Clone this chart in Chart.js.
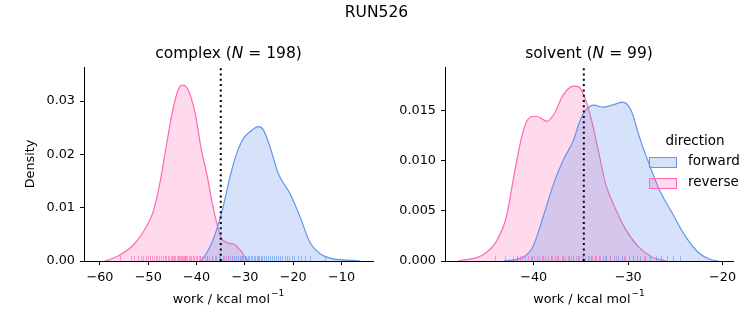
<!DOCTYPE html>
<html>
<head>
<meta charset="utf-8">
<script src="https://cdn.jsdelivr.net/npm/chart.js@4.4.1/dist/chart.umd.min.js"></script>
<style>
  body { margin: 0; background: #fff; }
  #wrap { position: relative; width: 753px; height: 325px; font-family: "DejaVu Sans", sans-serif; }
  #sup { position: absolute; left: 0; top: 3px; width: 753px; text-align: center; font-size: 15.5px; color: #000; }
  canvas { position: absolute; top: 0; }
</style>
</head>
<body>
<div id="wrap">
  <canvas id="complexChart" width="376" height="325" style="left:0"></canvas>
  <canvas id="solventChart" width="377" height="325" style="left:376px"></canvas>
  <div id="sup">RUN526</div>
</div>
<script>
// complex leg: KDE curves
const complexRevX = [-59.0, -56.6, -53.1, -50.0, -49.0, -47.6, -46.2, -44.8, -43.5, -42.8, -41.7, -40.3, -39.0, -37.9, -36.6, -35.6, -34.8, -33.6, -32.2, -31.0, -30.0, -29.3];
const complexRevY = [0, 0.0008, 0.003, 0.0071, 0.0092, 0.0146, 0.022, 0.0289, 0.0327, 0.0330, 0.0320, 0.0277, 0.0208, 0.0164, 0.0102, 0.0063, 0.0042, 0.0034, 0.0031, 0.0021, 0.0008, 0];
const complexFwdX = [-39.0, -37.2, -35.9, -34.5, -33.1, -31.7, -30.3, -29.0, -27.2, -26.2, -24.8, -23.1, -20.7, -18.6, -16.6, -14.5, -11.7, -7.6, -6.2];
const complexFwdY = [0, 0.0027, 0.0058, 0.0102, 0.0158, 0.0202, 0.0230, 0.0242, 0.0252, 0.0246, 0.0214, 0.0164, 0.0127, 0.0083, 0.0036, 0.0014, 0.0004, 0.0001, 0];

// solvent leg
const solventRevX = [-48.0, -45.4, -44.0, -42.9, -42.0, -41.1, -40.4, -39.7, -38.6, -37.8, -36.9, -35.8, -35.2, -34.5, -33.8, -33.1, -32.4, -31.3, -30.3, -28.9, -27.5, -26.0];
const solventRevY = [0, 0.0006, 0.0019, 0.0044, 0.0090, 0.0130, 0.0143, 0.0144, 0.0139, 0.0147, 0.0165, 0.0174, 0.0173, 0.0160, 0.0137, 0.0107, 0.0077, 0.0051, 0.0032, 0.0014, 0.0004, 0];
const solventFwdX = [-43.2, -41.1, -40.1, -39.0, -37.9, -36.9, -35.8, -35.2, -34.5, -33.6, -32.7, -31.7, -30.6, -29.7, -28.8, -27.8, -26.7, -25.3, -23.9, -22.5, -21.1, -20.4];
const solventFwdY = [0, 0.0004, 0.0014, 0.0044, 0.0077, 0.0100, 0.0120, 0.0137, 0.0150, 0.0155, 0.0153, 0.0155, 0.0158, 0.0150, 0.0123, 0.0097, 0.0071, 0.0047, 0.0024, 0.0008, 0.0001, 0];

// rug samples (approximate)
const complexRevRug = [-55.8, -53.6, -52.9, -52.2, -51.6, -51.0, -50.5, -50.1, -49.6, -49.2, -48.8, -48.4, -48.1, -47.7, -47.3, -47.0, -46.6, -46.3, -46.0, -45.7, -45.4, -45.1, -44.9, -44.6, -44.4, -44.1, -43.9, -43.7, -43.5, -43.3, -43.1, -42.9, -42.7, -42.5, -42.3, -42.1, -41.9, -41.6, -41.4, -41.1, -40.8, -40.5, -40.2, -39.9, -39.6, -39.2, -38.8, -38.3, -37.9, -37.4, -36.8, -36.1, -35.3, -34.4, -33.5, -32.6, -30.9];
const complexFwdRug = [-39.2, -37.8, -36.9, -36.0, -35.2, -34.6, -34.0, -33.5, -33.0, -32.6, -32.2, -31.8, -31.4, -31.0, -30.7, -30.3, -30.0, -29.7, -29.4, -29.1, -28.8, -28.5, -28.2, -27.9, -27.6, -27.3, -27.0, -26.7, -26.4, -26.1, -25.7, -25.3, -24.9, -24.5, -24.0, -23.6, -23.2, -22.8, -22.3, -21.8, -21.3, -20.8, -20.3, -19.8, -19.1, -18.4, -17.6, -16.6, -13.5];
const solventRevRug = [-44.1, -43.0, -42.2, -41.8, -41.5, -41.2, -40.9, -40.6, -40.3, -40.0, -39.7, -39.4, -39.1, -38.8, -38.5, -38.1, -37.8, -37.4, -37.0, -36.7, -36.4, -36.1, -35.8, -35.5, -35.2, -34.9, -34.6, -34.2, -33.8, -33.4, -33.0, -32.5, -31.9, -31.3, -30.4, -29.5, -28.3];
const solventFwdRug = [-41.8, -40.2, -39.0, -38.2, -37.5, -36.9, -36.3, -35.8, -35.3, -34.8, -34.3, -33.9, -33.5, -33.1, -32.7, -32.3, -31.9, -31.5, -31.1, -30.7, -30.3, -29.9, -29.5, -29.1, -28.7, -28.2, -27.7, -27.1, -26.5, -25.9, -25.3, -24.5];

const complexEstimate = -35.0;
const solventEstimate = -34.7;

const complexXTicks = [-60, -50, -40, -30, -20, -10];
const complexYTicks = [0, 0.01, 0.02, 0.03];
const solventXTicks = [-40, -30, -20];
const solventYTicks = [0, 0.005, 0.010, 0.015];

const seriesLabels = ['forward', 'reverse'];
const FWD = '#6495ED', REV = '#FF69B4';
const FWD_FILL = 'rgba(100,149,237,0.27)', REV_FILL = 'rgba(255,105,180,0.25)';
const FONT = '"DejaVu Sans", sans-serif';
const TICK = 12.8;

const pts = (xs, ys) => xs.map((x, i) => ({ x: x, y: ys[i] }));
const minus = s => String(s).replace('-', '\u2212');

// title with italic N, x label with superscript, rug ticks, dotted estimate line, legend
const extras = {
  id: 'extras',
  afterDatasetsDraw(chart, args, o) {
    const ctx = chart.ctx, xs = chart.scales.x, a = chart.chartArea;
    ctx.save();
    ctx.lineWidth = 1;
    [[o.fwdRug, 'rgba(100,149,237,0.6)'], [o.revRug, 'rgba(255,105,180,0.6)']].forEach(([vals, c]) => {
      ctx.strokeStyle = c;
      vals.forEach(v => {
        const px = Math.round(xs.getPixelForValue(v)) + 0.5;
        ctx.beginPath(); ctx.moveTo(px, a.bottom); ctx.lineTo(px, a.bottom - 5); ctx.stroke();
      });
    });
    const px = xs.getPixelForValue(o.estimate);
    ctx.strokeStyle = '#000'; ctx.lineWidth = 2; ctx.setLineDash([2, 3.3]);
    ctx.beginPath(); ctx.moveTo(px, a.bottom); ctx.lineTo(px, a.top); ctx.stroke();
    ctx.setLineDash([]);
    ctx.restore();
  },
  afterDraw(chart, args, o) {
    const ctx = chart.ctx, a = chart.chartArea;
    const cx = (a.left + a.right) / 2;
    ctx.save();
    ctx.fillStyle = '#000';
    ctx.textBaseline = 'middle';
    ctx.textAlign = 'left';
    // subplot title
    const parts = [[o.title[0], 'normal'], ['N', 'italic'], [o.title[1], 'normal']];
    let w = 0;
    parts.forEach(p => { ctx.font = p[1] + ' 15.5px ' + FONT; w += ctx.measureText(p[0]).width; });
    let x = cx - w / 2;
    parts.forEach(p => {
      ctx.font = p[1] + ' 15.5px ' + FONT;
      ctx.fillText(p[0], x, 54);
      x += ctx.measureText(p[0]).width;
    });
    // x axis label
    ctx.font = TICK + 'px ' + FONT;
    const main = 'work / kcal mol', sup = '\u22121';
    const mw = ctx.measureText(main).width;
    ctx.font = '9px ' + FONT;
    const sw = ctx.measureText(sup).width;
    x = cx - (mw + sw + 1) / 2;
    ctx.font = TICK + 'px ' + FONT;
    ctx.fillText(main, x, 300);
    ctx.font = '9px ' + FONT;
    ctx.fillText(sup, x + mw + 1, 294);
    // legend
    if (o.legend) {
      const L = o.legend;
      ctx.font = '13.5px ' + FONT;
      ctx.textAlign = 'center';
      ctx.fillText('direction', L.x + 46, L.y);
      const ds = chart.data.datasets;
      [0, 1].forEach(i => {
        const ry = L.y + 16 + i * 21;
        ctx.fillStyle = ds[i].backgroundColor;
        ctx.fillRect(L.x, ry, 27, 10);
        ctx.strokeStyle = ds[i].borderColor; ctx.lineWidth = 1;
        ctx.strokeRect(L.x + 0.5, ry + 0.5, 27, 10);
        ctx.fillStyle = '#000'; ctx.textAlign = 'left';
        ctx.fillText(ds[i].label, L.x + 39, ry + 4);
      });
    }
    ctx.restore();
  }
};

function makeChart(id, c) {
  return new Chart(document.getElementById(id), {
    type: 'line',
    data: {
      datasets: [
        { label: seriesLabels[0], data: pts(c.fwdX, c.fwdY), borderColor: FWD, backgroundColor: FWD_FILL, fill: 'origin' },
        { label: seriesLabels[1], data: pts(c.revX, c.revY), borderColor: REV, backgroundColor: REV_FILL, fill: 'origin' }
      ]
    },
    options: {
      responsive: false,
      animation: false,
      parsing: false,
      elements: { line: { borderWidth: 1.2, cubicInterpolationMode: 'monotone' }, point: { radius: 0 } },
      layout: { padding: { top: 67, right: c.padRight, left: 0, bottom: 0 } },
      plugins: {
        legend: { display: false },
        tooltip: { enabled: false },
        extras: { title: c.title, fwdRug: c.fwdRug, revRug: c.revRug, estimate: c.estimate, legend: c.legend }
      },
      scales: {
        x: {
          type: 'linear', min: c.xMin, max: c.xMax,
          afterFit: s => { s.height = 64; },
          afterBuildTicks: s => { s.ticks = c.xTicks.map(v => ({ value: v })); },
          grid: { drawOnChartArea: false, tickLength: 4, color: '#000' },
          border: { color: '#000', width: 1 },
          ticks: { color: '#000', font: { family: FONT, size: TICK }, padding: 5, maxRotation: 0, callback: v => minus(v) },
          title: { display: false }
        },
        y: {
          min: 0, max: c.yMax,
          afterFit: s => { s.width = c.yWidth; },
          afterBuildTicks: s => { s.ticks = c.yTicks.map(v => ({ value: v })); },
          grid: { drawOnChartArea: false, tickLength: 4, color: '#000' },
          border: { color: '#000', width: 1 },
          ticks: { color: '#000', font: { family: FONT, size: TICK }, padding: 5, callback: v => v.toFixed(c.yDigits) },
          title: { display: c.yTitle, text: 'Density', color: '#000', font: { family: FONT, size: TICK }, padding: { top: 23 } }
        }
      }
    },
    plugins: [extras]
  });
}

makeChart('complexChart', {
  fwdX: complexFwdX, fwdY: complexFwdY, revX: complexRevX, revY: complexRevY,
  fwdRug: complexFwdRug, revRug: complexRevRug, estimate: complexEstimate,
  title: ['complex (', ' = 198)'],
  xMin: -63.3, xMax: -3.5, yMax: 0.0364, xTicks: complexXTicks, yTicks: complexYTicks,
  yDigits: 2, yWidth: 84, yTitle: true, padRight: 3
});

makeChart('solventChart', {
  fwdX: solventFwdX, fwdY: solventFwdY, revX: solventRevX, revY: solventRevY,
  fwdRug: solventFwdRug, revRug: solventRevRug, estimate: solventEstimate,
  title: ['solvent (', ' = 99)'],
  xMin: -49.4, xMax: -18.9, yMax: 0.0193, xTicks: solventXTicks, yTicks: solventYTicks,
  yDigits: 3, yWidth: 69, yTitle: false, padRight: 20,
  legend: { x: 273, y: 141 }
});
</script>
</body>
</html>
